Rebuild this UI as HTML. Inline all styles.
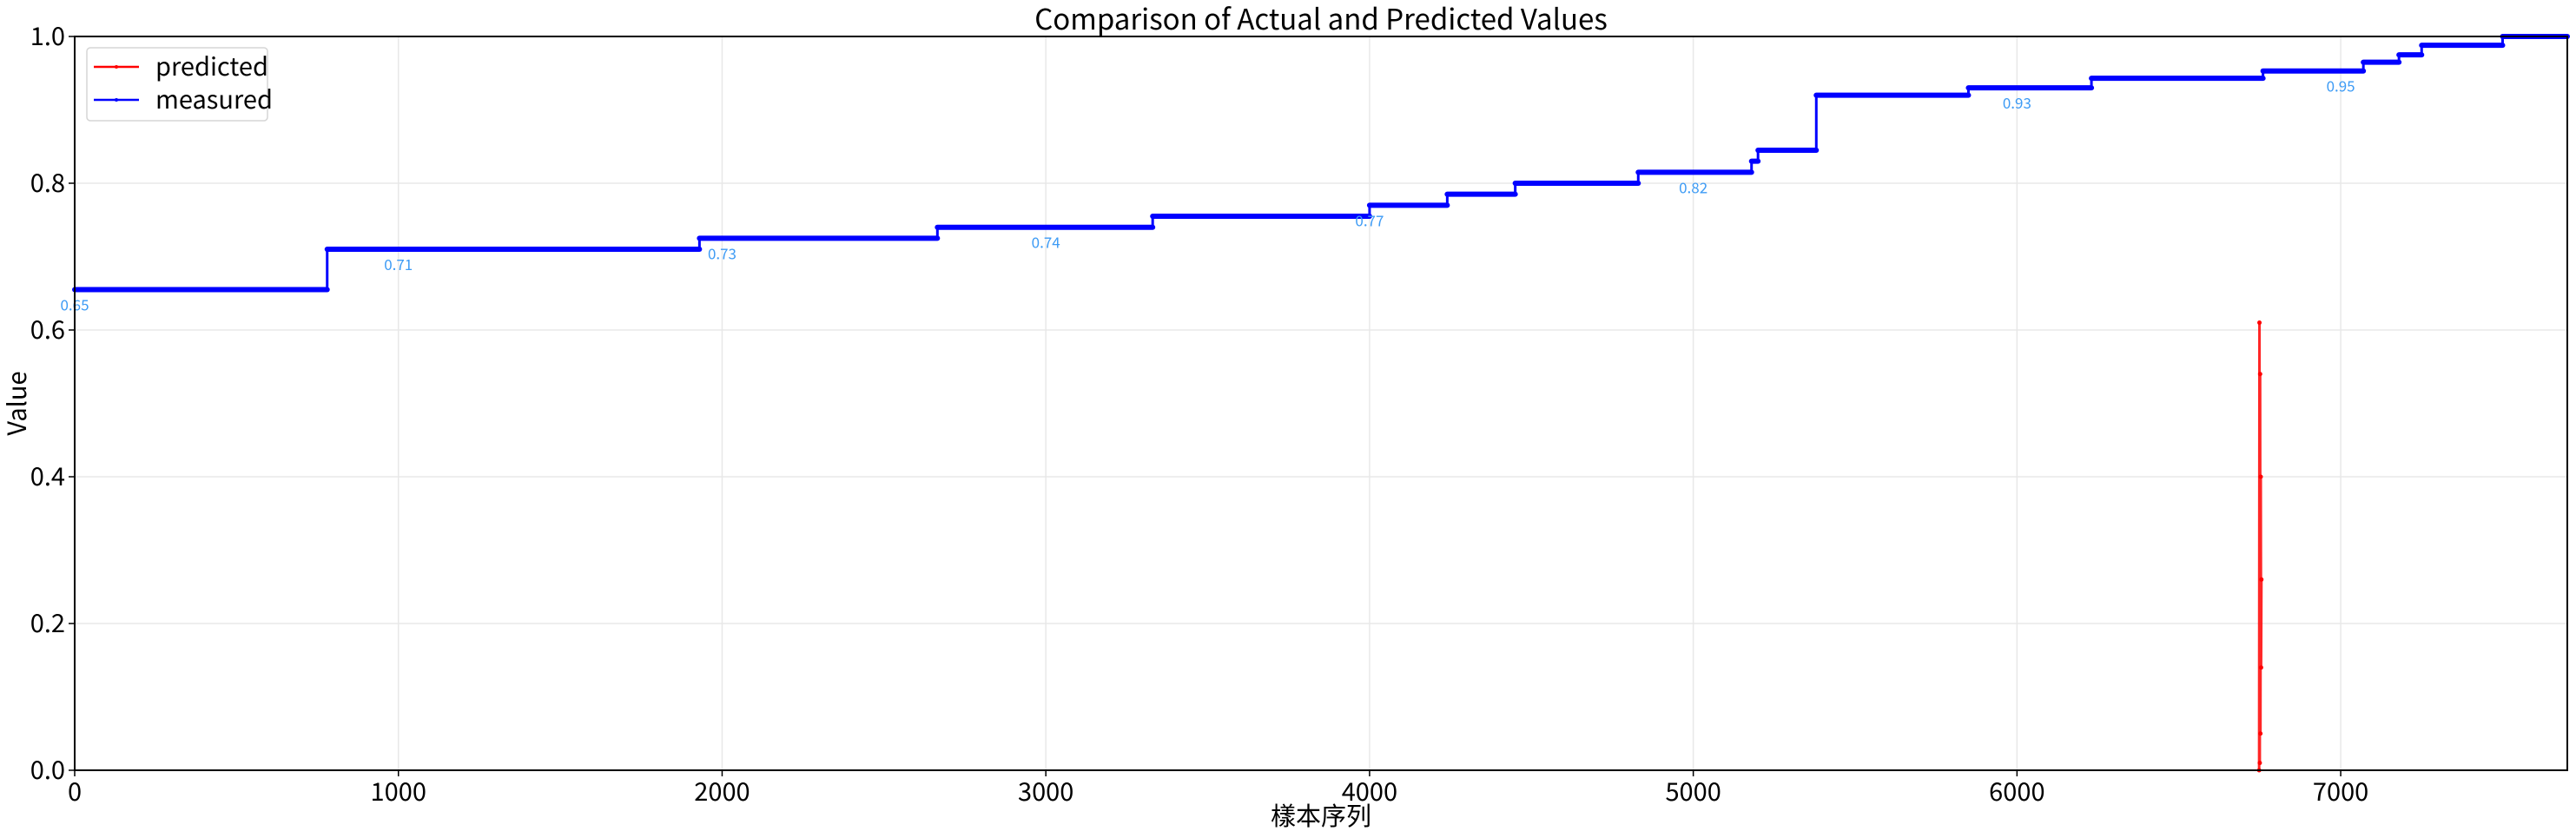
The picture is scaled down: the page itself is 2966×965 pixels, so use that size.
<!DOCTYPE html>
<html><head><meta charset="utf-8"><style>
html,body{margin:0;padding:0;background:#fff}
svg{display:block;font-family:"Noto Sans CJK SC","Liberation Sans",sans-serif}
</style></head><body>
<svg id="chart" width="2966" height="965"></svg>
<script>
const xTicks=[0,1000,2000,3000,4000,5000,6000,7000];
const yTicks=[0.0,0.2,0.4,0.6,0.8,1.0];
const yTickLabels=["0.0","0.2","0.4","0.6","0.8","1.0"];
const stepStarts=[0,780,1930,2665,3330,4000,4240,4450,4830,5180,5200,5380,5850,6230,6760,7070,7180,7250,7500];
const stepValues=[0.655,0.71,0.725,0.74,0.755,0.77,0.785,0.80,0.815,0.83,0.845,0.92,0.93,0.943,0.953,0.965,0.975,0.988,1.0];
const labelIdx=[0,1000,2000,3000,4000,5000,6000,7000];
const labelText=["0.65","0.71","0.73","0.74","0.77","0.82","0.93","0.95"];
const predX=[6748,6749,6750,6751,6752,6753,6754,6755];
const predY=[0.0,0.61,0.01,0.54,0.05,0.40,0.14,0.26];
const xMax=7700;
const L=86,R=2956,T=42,B=887;
const sx=v=>L+(R-L)*v/xMax;
const sy=v=>B-(B-T)*v;
const svg=document.getElementById('chart');
const NS='http://www.w3.org/2000/svg';
function mk(tag,attrs,parent){const e=document.createElementNS(NS,tag);for(const k in attrs)e.setAttribute(k,attrs[k]);(parent||svg).appendChild(e);return e;}
xTicks.forEach(t=>{const l=mk('line',{x1:sx(t),x2:sx(t),y1:T,y2:B,stroke:'#e8e8e8','stroke-width':1.5});

});
yTicks.forEach(t=>{const l=mk('line',{x1:L,x2:R,y1:sy(t),y2:sy(t),stroke:'#e8e8e8','stroke-width':1.5});

});
const g=mk('g',{});


for(let i=0;i<stepStarts.length;i++){
  const x0=sx(stepStarts[i]),x1=sx(i+1<stepStarts.length?stepStarts[i+1]:xMax);
  const y=sy(stepValues[i]);
  const h=mk('line',{x1:x0,x2:x1,y1:y,y2:y,stroke:'#0000ff','stroke-width':6,'stroke-linecap':'round'},g);
  
  
  if(i+1<stepStarts.length){
    const v=mk('line',{x1:x1,x2:x1,y1:y,y2:sy(stepValues[i+1]),stroke:'#0000ff','stroke-width':3},g);
    
    
  }
}
function valAt(idx){let v=stepValues[0];for(let i=0;i<stepStarts.length;i++)if(stepStarts[i]<=idx)v=stepValues[i];return v;}
labelIdx.forEach((ix,i)=>{const t=mk('text',{x:sx(ix),y:sy(valAt(ix))+24,'text-anchor':'middle','font-size':17,fill:'#3d9bf5'});t.textContent=labelText[i];

});
let d='';predX.forEach((x,i)=>{d+=(i?'L':'M')+sx(x)+','+sy(predY[i]);});
const p=mk('path',{d:d,stroke:'#ff0000','stroke-width':3,fill:'none','stroke-opacity':0.85});


predX.forEach((x,i)=>{const c=mk('circle',{cx:sx(x),cy:sy(predY[i]),r:2.5,fill:'#ff0000'});

});
const fr=mk('rect',{x:L,y:T,width:R-L,height:B-T,fill:'none',stroke:'#000','stroke-width':2});


xTicks.forEach(t=>{const l=mk('line',{x1:sx(t),x2:sx(t),y1:B,y2:B+7,stroke:'#000','stroke-width':1.5});


const tx=mk('text',{x:sx(t),y:B+35,'text-anchor':'middle','font-size':29,fill:'#000'});tx.textContent=String(t);

});
yTicks.forEach((t,i)=>{const l=mk('line',{x1:L-7,x2:L,y1:sy(t),y2:sy(t),stroke:'#000','stroke-width':1.5});


const tx=mk('text',{x:L-11,y:sy(t)+10,'text-anchor':'end','font-size':29,fill:'#000'});tx.textContent=yTickLabels[i];

});
const ti=mk('text',{x:(L+R)/2,y:34,'text-anchor':'middle','font-size':33,fill:'#000'});ti.textContent='Comparison of Actual and Predicted Values';


const xl=mk('text',{x:(L+R)/2,y:950,'text-anchor':'middle','font-size':29,fill:'#000'});xl.textContent='樣本序列';


const yl=mk('text',{x:30,y:(T+B)/2,'text-anchor':'middle','font-size':29,fill:'#000',transform:'rotate(-90 30 '+((T+B)/2)+')'});yl.textContent='Value';


const lg=mk('g',{});


mk('rect',{x:100,y:55,width:208,height:84,rx:4,fill:'#fff',stroke:'#d5d5d5','stroke-width':1.5},lg);
[['predicted','#ff0000',77],['measured','#0000ff',115]].forEach(([n,c,y])=>{
  const e=mk('g',{},lg);
  
  
  mk('line',{x1:108,x2:160,y1:y,y2:y,stroke:c,'stroke-width':2.5},e);
  mk('circle',{cx:134,cy:y,r:2,fill:c},e);
  const t=mk('text',{x:179,y:y+10,'font-size':29,fill:'#000'},e);t.textContent=n;
});
</script>
</body></html>
